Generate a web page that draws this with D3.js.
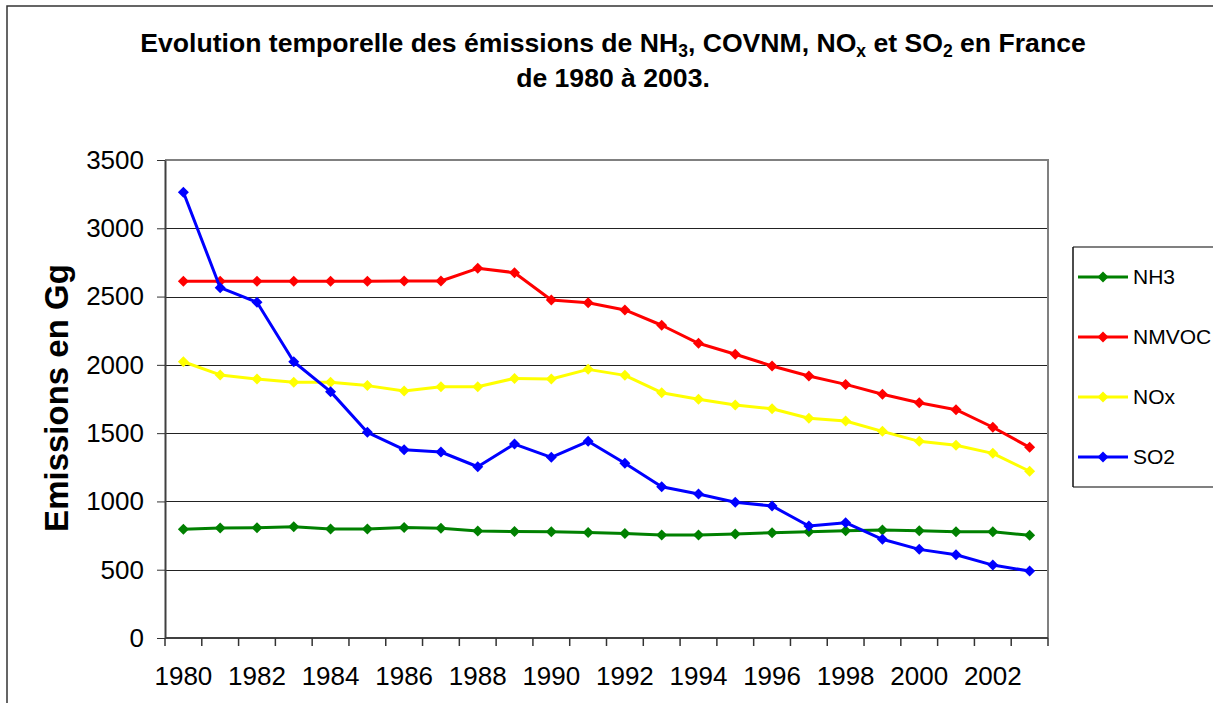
<!DOCTYPE html>
<html>
<head>
<meta charset="utf-8">
<script src="https://cdn.jsdelivr.net/npm/d3@7"></script>
<style>
  html, body { margin: 0; padding: 0; background: #fff; }
  svg { display: block; font-family: Arial, "Liberation Sans", sans-serif; }
</style>
</head>
<body>
<svg id="chart" width="1213" height="703"></svg>
<script>
// Annual emissions in France (Gg), 1980-2003
const years = d3.range(1980, 2004);
const nh3   = [796, 806, 808, 815, 798, 798, 810, 803, 783, 780, 778, 773, 765, 755, 755, 761, 771, 778, 786, 790, 786, 778, 778, 752];
const nmvoc = [2612, 2612, 2612, 2612, 2612, 2612, 2614, 2614, 2707, 2675, 2475, 2455, 2402, 2290, 2158, 2078, 1992, 1918, 1857, 1785, 1723, 1672, 1543, 1396];
const nox   = [2023, 1926, 1896, 1872, 1872, 1848, 1809, 1840, 1840, 1901, 1896, 1967, 1923, 1796, 1748, 1706, 1679, 1609, 1589, 1513, 1440, 1411, 1352, 1221];
const so2   = [3264, 2565, 2458, 2023, 1804, 1506, 1379, 1362, 1254, 1420, 1323, 1440, 1279, 1108, 1054, 994, 967, 820, 844, 723, 649, 610, 534, 490];

const seriesNames  = ["NH3", "NMVOC", "NOx", "SO2"];
const seriesColors = ["#008000", "#FF0000", "#FFFF00", "#0000FF"];
const seriesValues = [nh3, nmvoc, nox, so2];

const yTicks = [0, 500, 1000, 1500, 2000, 2500, 3000, 3500];
const xTickLabels = years.filter(y => (y - 1980) % 2 === 0);

const svg = d3.select("#chart");
const plot = { left: 165, right: 1048, top: 160, bottom: 638 };

const x = d3.scaleBand().domain(years).range([plot.left, plot.right]).padding(0);
const y = d3.scaleLinear().domain([0, 3500]).range([plot.bottom, plot.top]);
const cx = yr => x(yr) + x.bandwidth() / 2;

// Outer chart frame
svg.append("rect")
  .attr("x", 7).attr("y", 6).attr("width", 1240).attr("height", 740)
  .attr("fill", "none").attr("stroke", "#333").attr("stroke-width", 1.5);

// Title
const title = svg.append("g").attr("font-weight", "bold").attr("fill", "#000").attr("text-anchor", "middle");
const t1 = title.append("text").attr("x", 613).attr("y", 52).attr("font-size", 26.6);
const parts = [
  ["Evolution temporelle des émissions de NH", false], ["3", true],
  [", COVNM, NO", false], ["x", true], [" et SO", false], ["2", true], [" en France", false]
];
parts.forEach(([txt, sub], i) => {
  const ts = t1.append("tspan").text(txt);
  if (sub) ts.attr("font-size", 17.5).attr("dy", 5);
  else if (i > 0 && parts[i - 1][1]) ts.attr("dy", -5);
});
title.append("text").attr("x", 613).attr("y", 87).attr("font-size", 26.6).text("de 1980 à 2003.");

// Horizontal gridlines
svg.append("g").selectAll("line")
  .data(yTicks.filter(v => v > 0 && v < 3500))
  .join("line")
  .attr("x1", plot.left).attr("x2", plot.right)
  .attr("y1", d => Math.round(y(d)) + 0.5).attr("y2", d => Math.round(y(d)) + 0.5)
  .attr("stroke", "#222").attr("stroke-width", 1);

// Plot border (top and right)
svg.append("path")
  .attr("d", `M${plot.left},${plot.top}H${plot.right}V${plot.bottom}`)
  .attr("fill", "none").attr("stroke", "#808080").attr("stroke-width", 2);

// Y axis
const yAxis = svg.append("g")
  .attr("transform", `translate(${plot.left},0)`)
  .call(d3.axisLeft(y).tickValues(yTicks).tickFormat(d3.format("d"))
    .tickSize(8).tickPadding(13).tickSizeOuter(0));
yAxis.select(".domain").attr("stroke", "#404040").attr("stroke-width", 2);
yAxis.selectAll(".tick line").attr("stroke", "#333").attr("stroke-width", 1);
yAxis.selectAll(".tick text")
  .attr("font-size", 26).attr("font-family", "Arial, 'Liberation Sans', sans-serif").attr("fill", "#000");

// X axis: baseline, ticks at category boundaries, labels every second year
const xg = svg.append("g");
xg.append("line")
  .attr("x1", plot.left).attr("x2", plot.right)
  .attr("y1", plot.bottom).attr("y2", plot.bottom)
  .attr("stroke", "#404040").attr("stroke-width", 2);
const edges = years.map(yr => x(yr)).concat([x.range()[1]]);
xg.selectAll("line.tick")
  .data(edges)
  .join("line").attr("class", "tick")
  .attr("x1", d => d).attr("x2", d => d)
  .attr("y1", plot.bottom).attr("y2", plot.bottom + 8)
  .attr("stroke", "#333").attr("stroke-width", 1.5);
xg.selectAll("text")
  .data(xTickLabels)
  .join("text")
  .attr("x", d => cx(d)).attr("y", 685)
  .attr("text-anchor", "middle").attr("font-size", 26).attr("fill", "#000")
  .text(d => d);

// Y axis title
svg.append("text")
  .attr("transform", "translate(68,398) rotate(-90)")
  .attr("text-anchor", "middle").attr("font-size", 33).attr("font-weight", "bold")
  .attr("fill", "#000").text("Emissions en Gg");

// Diamond marker
const diamond = r => `M0,${-r}L${r},0L0,${r}L${-r},0Z`;

// Series lines and markers
const line = d3.line().x((d, i) => cx(years[i])).y(d => y(d));
seriesValues.forEach((vals, k) => {
  const g = svg.append("g");
  g.append("path")
    .attr("d", line(vals))
    .attr("fill", "none").attr("stroke", seriesColors[k])
    .attr("stroke-width", 3).attr("stroke-linejoin", "round");
  g.selectAll("path.m")
    .data(vals)
    .join("path").attr("class", "m")
    .attr("transform", (d, i) => `translate(${cx(years[i])},${y(d)})`)
    .attr("d", diamond(5.5))
    .attr("fill", seriesColors[k]);
});

// Legend
const lg = svg.append("g");
lg.append("line").attr("x1", 1073).attr("x2", 1240).attr("y1", 247).attr("y2", 247)
  .attr("stroke", "#808080").attr("stroke-width", 2);
lg.append("line").attr("x1", 1073).attr("x2", 1240).attr("y1", 487).attr("y2", 487)
  .attr("stroke", "#808080").attr("stroke-width", 2);
lg.append("line").attr("x1", 1073).attr("x2", 1073).attr("y1", 247).attr("y2", 487)
  .attr("stroke", "#111").attr("stroke-width", 1.5);
const legendY = d3.scalePoint().domain(seriesNames).range([277, 457]);
seriesNames.forEach((name, k) => {
  const yy = legendY(name);
  lg.append("line").attr("x1", 1078).attr("x2", 1128).attr("y1", yy).attr("y2", yy)
    .attr("stroke", seriesColors[k]).attr("stroke-width", 3);
  lg.append("path").attr("transform", `translate(1103,${yy})`).attr("d", diamond(5.5))
    .attr("fill", seriesColors[k]);
  lg.append("text").attr("x", 1133).attr("y", yy + 7).attr("font-size", 21)
    .attr("fill", "#000").text(name);
});
</script>
</body>
</html>
